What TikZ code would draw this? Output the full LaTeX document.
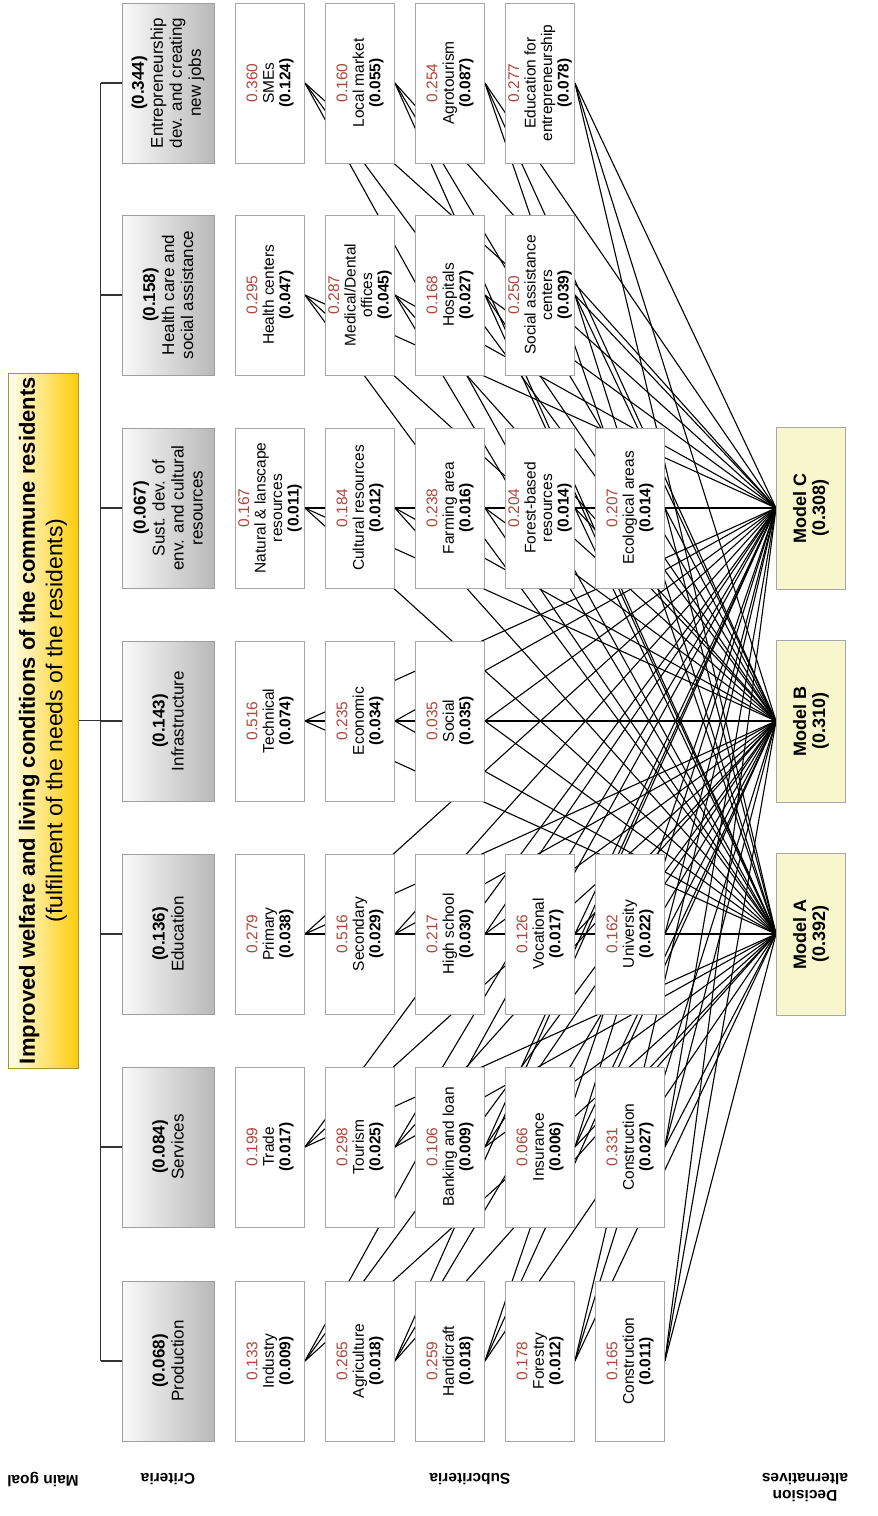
\documentclass[tikz,border=0pt]{standalone}
\usepackage{fontspec}
\setmainfont{Liberation Sans}
\usepackage{xcolor}
\usepackage{tikz}
\usetikzlibrary{backgrounds}

\definecolor{numred}{RGB}{178,68,58}
\definecolor{goldgoal}{RGB}{255,204,10}
\definecolor{goalline}{RGB}{168,146,52}
\definecolor{modelfill}{RGB}{248,246,204}

\tikzset{
  goalbox/.style={draw=goalline, line width=1pt, rotate=90, minimum width=695pt, minimum height=70pt,
    inner sep=0pt, left color=yellow!6, right color=goldgoal, align=center, font=\fontsize{22}{27.5}\selectfont},
  critbox/.style={draw=gray!75, line width=1pt, rotate=90, minimum width=160pt, minimum height=92pt,
    inner sep=0pt, left color=gray!4, right color=gray!55, align=center, font=\fontsize{17}{19}\selectfont},
  subbox/.style={draw=gray!70, line width=0.8pt, fill=white, rotate=90, minimum width=160pt, minimum height=69pt,
    inner sep=0pt, align=center, font=\fontsize{15.5}{16.5}\selectfont},
  modelbox/.style={draw=gray!70, line width=1pt, fill=modelfill, rotate=90, minimum width=162pt, minimum height=69pt,
    inner sep=0pt, align=center, font=\bfseries\fontsize{18}{19}\selectfont},
  tier/.style={rotate=180, align=center, font=\bfseries\fontsize{15.5}{17}\selectfont},
  spine/.style={line width=1.6pt, black!80},
  link/.style={line width=1.1pt}
}

\begin{document}
\begin{tikzpicture}[x=1pt, y=-1pt]

\useasboundingbox (0,0) rectangle (878,1516);

\node[goalbox] (goal) at (43,720.5) {{\bfseries\fontsize{22}{27.5}\selectfont Improved welfare and living conditions of the commune residents}\\
  {\fontsize{23}{27.5}\selectfont (fulfilment of the needs of the residents)}};

\foreach \y/\vl/\lb [count=\r] in {83/0.344/{Entrepreneurship\\dev. and creating\\new jobs},
  295/0.158/{Health care and\\social assistance}, 508/0.067/{Sust. dev. of\\env. and cultural\\resources},
  721/0.143/Infrastructure, 934/0.136/Education, 1147/0.084/Services, 1361/0.068/Production}{
  \node[critbox] (c\r) at (168,\y) {\textbf{(\vl)}\\\lb};
}

\node[modelbox] (mC) at (811,508) {Model C\\(0.308)};
\node[modelbox] (mB) at (811,721) {Model B\\(0.310)};
\node[modelbox] (mA) at (811,934) {Model A\\(0.392)};

% subcriteria, one row per criterion
\foreach \nm/\lb/\vl [count=\k] in {0.360/SMEs/0.124, 0.160/Local market/0.055, 0.254/Agrotourism/0.087,
  0.277/{Education for\\entrepreneurship}/0.078}
  \node[subbox] (s1\k) at (180+90*\k,83) {\textcolor{numred}{\nm}\\\lb\\\textbf{(\vl)}};

\foreach \nm/\lb/\vl [count=\k] in {0.295/Health centers/0.047, 0.287/{Medical/Dental\\offices}/0.045,
  0.168/Hospitals/0.027, 0.250/{Social assistance\\centers}/0.039}
  \node[subbox] (s2\k) at (180+90*\k,295) {\textcolor{numred}{\nm}\\\lb\\\textbf{(\vl)}};

\foreach \nm/\lb/\vl [count=\k] in {0.167/{Natural \& lanscape\\resources}/0.011, 0.184/Cultural resources/0.012,
  0.238/Farming area/0.016, 0.204/{Forest-based\\resources}/0.014, 0.207/Ecological areas/0.014}
  \node[subbox] (s3\k) at (180+90*\k,508) {\textcolor{numred}{\nm}\\\lb\\\textbf{(\vl)}};

\foreach \nm/\lb/\vl [count=\k] in {0.516/Technical/0.074, 0.235/Economic/0.034, 0.035/Social/0.035}
  \node[subbox] (s4\k) at (180+90*\k,721) {\textcolor{numred}{\nm}\\\lb\\\textbf{(\vl)}};

\foreach \nm/\lb/\vl [count=\k] in {0.279/Primary/0.038, 0.516/Secondary/0.029, 0.217/High school/0.030,
  0.126/Vocational/0.017, 0.162/University/0.022}
  \node[subbox] (s5\k) at (180+90*\k,934) {\textcolor{numred}{\nm}\\\lb\\\textbf{(\vl)}};

\foreach \nm/\lb/\vl [count=\k] in {0.199/Trade/0.017, 0.298/Tourism/0.025, 0.106/Banking and loan/0.009,
  0.066/Insurance/0.006, 0.331/Construction/0.027}
  \node[subbox] (s6\k) at (180+90*\k,1147) {\textcolor{numred}{\nm}\\\lb\\\textbf{(\vl)}};

\foreach \nm/\lb/\vl [count=\k] in {0.133/Industry/0.009, 0.265/Agriculture/0.018, 0.259/Handicraft/0.018,
  0.178/Forestry/0.012, 0.165/Construction/0.011}
  \node[subbox] (s7\k) at (180+90*\k,1361) {\textcolor{numred}{\nm}\\\lb\\\textbf{(\vl)}};

% goal to criteria
\foreach \r in {1,...,7}
  \coordinate (j\r) at ([xshift=-21pt]c\r.north);
\draw[spine] (j1) -- (j7);
\foreach \r in {1,...,7}
  \draw[spine] (j\r) -- (c\r.north);
\draw[spine] (goal.south) -- (goal.south -| j1);

% every subcriterion to every model
\begin{scope}[on background layer]
\foreach \r/\n in {1/4,2/4,3/5,4/3,5/5,6/5,7/5}
  \foreach \k in {1,...,\n}
    \foreach \m in {mA,mB,mC}
      \draw[link] (s\r\k.south) -- (\m.north);
\end{scope}

\node[tier] (tgoal) at (43,1479) {Main goal};
\node[tier] (tcrit) at (168,1479) {Criteria};
\node[tier] (tsub) at (470,1479) {Subcriteria};
\node[tier] (talt) at (805,1488) {Decision\\alternatives};

\end{tikzpicture}
\end{document}
